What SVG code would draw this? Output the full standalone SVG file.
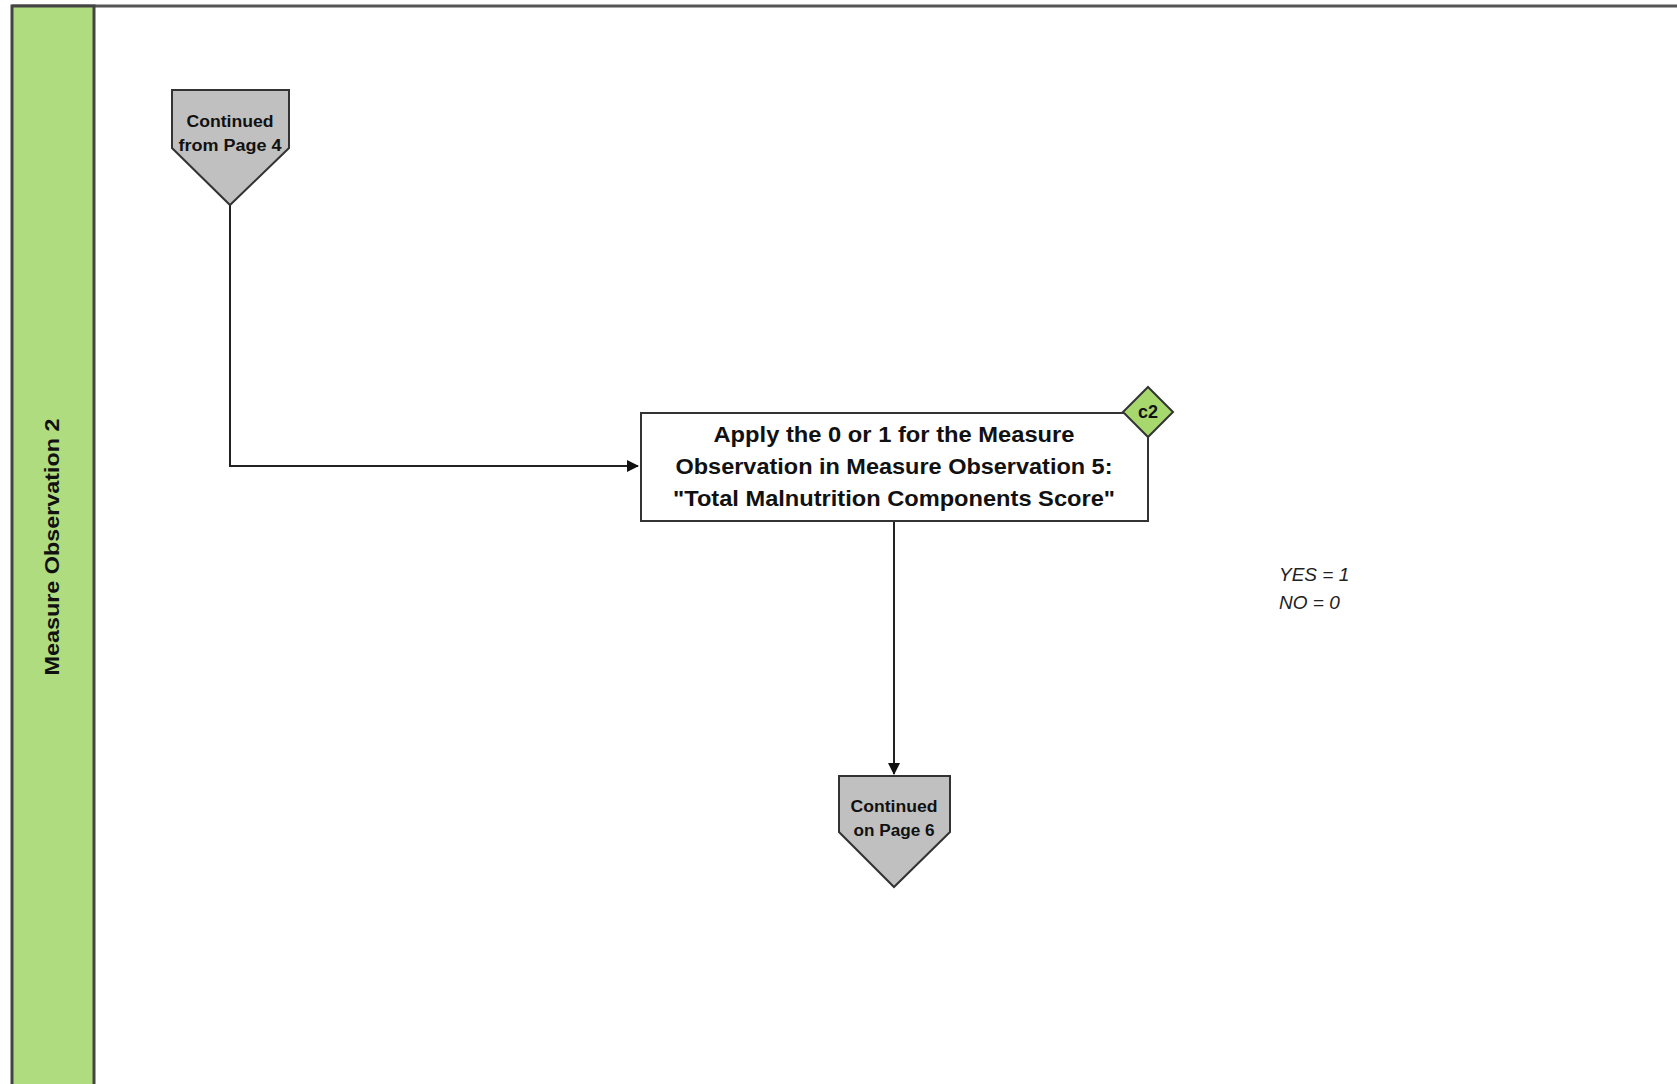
<svg xmlns="http://www.w3.org/2000/svg" width="1677" height="1084" viewBox="0 0 1677 1084">
<style>
.lbl{font-family:"Liberation Sans",Arial,sans-serif;font-weight:bold;fill:#111;text-anchor:middle}
.conn{fill:none;stroke:#222;stroke-width:2}
.off{fill:#c0c0c0;stroke:#333;stroke-width:2}
.note{font-family:"Liberation Sans",Arial,sans-serif;font-style:italic;fill:#222;font-size:19px}
</style>
<defs>
<marker id="ah" markerWidth="12" markerHeight="12" refX="11" refY="6" orient="auto" markerUnits="userSpaceOnUse">
<path d="M0,0 L12,6 L0,12 z" fill="#111"/>
</marker>
</defs>
<rect width="1677" height="1084" fill="#fff"/>
<g id="lane">
<line x1="12" y1="6" x2="1677" y2="6" stroke="#555" stroke-width="3"/>
<rect x="12" y="6" width="82" height="1090" fill="#b0dc80" stroke="#444" stroke-width="3"/>
<text class="lbl" font-size="20" textLength="257" lengthAdjust="spacingAndGlyphs" transform="translate(59,547) rotate(-90)">Measure Observation 2</text>
</g>
<g id="connectors">
<path class="conn" d="M230,205 V466 H638" marker-end="url(#ah)"/>
<path class="conn" d="M894,521 V774" marker-end="url(#ah)"/>
</g>
<g id="offpage-from4">
<path class="off" d="M172,90 H289 V148 L230,205 L172,148 Z"/>
<text class="lbl" font-size="16" x="230" y="127" textLength="87" lengthAdjust="spacingAndGlyphs">Continued</text>
<text class="lbl" font-size="16" x="230" y="151" textLength="103" lengthAdjust="spacingAndGlyphs">from Page 4</text>
</g>
<g id="process">
<rect x="641" y="413" width="507" height="108" fill="#fff" stroke="#333" stroke-width="2"/>
<text class="lbl" font-size="22" x="894" y="442" textLength="361" lengthAdjust="spacingAndGlyphs">Apply the 0 or 1 for the Measure</text>
<text class="lbl" font-size="22" x="894" y="474" textLength="437" lengthAdjust="spacingAndGlyphs">Observation in Measure Observation 5:</text>
<text class="lbl" font-size="22" x="894" y="506" textLength="442" lengthAdjust="spacingAndGlyphs">"Total Malnutrition Components Score"</text>
</g>
<g id="c2">
<path d="M1148,387 L1173,412 L1148,437 L1123,412 Z" fill="#a6d86e" stroke="#333" stroke-width="2"/>
<text class="lbl" font-size="18" x="1148" y="418">c2</text>
</g>
<g id="offpage-to6">
<path class="off" d="M839,776 H950 V832 L894,887 L839,832 Z"/>
<text class="lbl" font-size="16" x="894" y="812" textLength="87" lengthAdjust="spacingAndGlyphs">Continued</text>
<text class="lbl" font-size="16" x="894" y="836" textLength="81" lengthAdjust="spacingAndGlyphs">on Page 6</text>
</g>
<g id="note">
<text class="note" x="1279" y="581">YES = 1</text>
<text class="note" x="1279" y="609">NO = 0</text>
</g>
</svg>
